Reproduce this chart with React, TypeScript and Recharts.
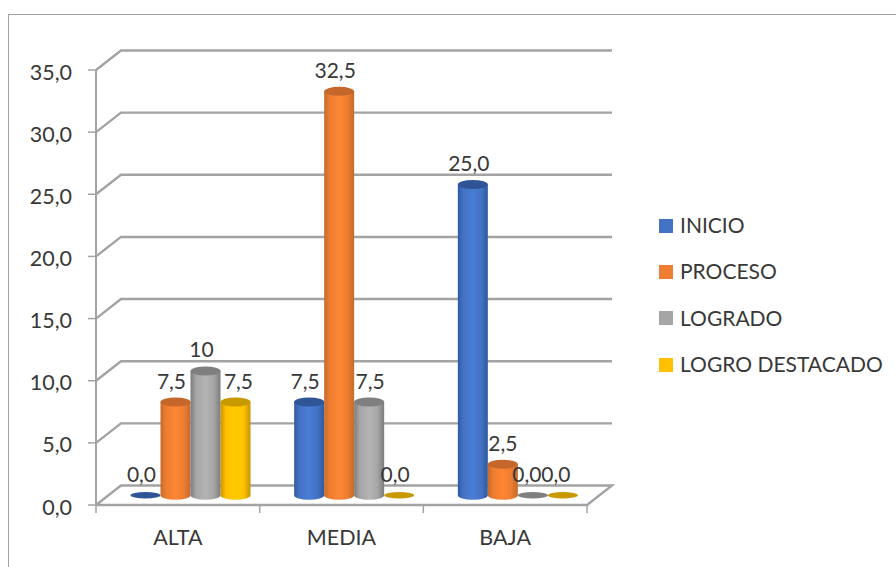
import { Bar, BarChart, CartesianGrid, LabelList, Legend, XAxis, YAxis } from "recharts";

const categories = ["ALTA", "MEDIA", "BAJA"];
const inicio = [0, 7.5, 25];
const proceso = [7.5, 32.5, 2.5];
const logrado = [10, 7.5, 0];
const logroDestacado = [7.5, 0, 0];
const yTicks = [0, 5, 10, 15, 20, 25, 30, 35];

const chartData = categories.map((name, i) => ({
  name,
  INICIO: inicio[i],
  PROCESO: proceso[i],
  LOGRADO: logrado[i],
  "LOGRO DESTACADO": logroDestacado[i],
}));

const SERIES = [
  { key: "INICIO", fill: "#4472C4", edge: "#2f5a9e", mid: "#4a7dd6", top: "#2f5597" },
  { key: "PROCESO", fill: "#ED7D31", edge: "#c56a2c", mid: "#ff8633", top: "#c5672a" },
  { key: "LOGRADO", fill: "#A5A5A5", edge: "#7c7c7c", mid: "#b4b4b4", top: "#7f7f7f" },
  { key: "LOGRO DESTACADO", fill: "#FFC000", edge: "#c49400", mid: "#ffcb00", top: "#c99a00" },
];

// labels the original chart had dragged away from the default spot
const LABEL_NUDGE: Record<string, number> = {
  "LOGRO DESTACADO-0": 7,
  "LOGRADO-1": 5,
  "PROCESO-2": 4,
  "LOGRADO-2": -2,
  "LOGRO DESTACADO-2": -3,
};

const FONT = "Lato, sans-serif";
const TEXT = "#383838";
const GRID = "#a3a3a3";
const CHART_W = 896;
const CHART_H = 567;
const PLOT_LEFT = 96;
const PLOT_TOP = 70;
const PLOT_W = 491;
const PLOT_H = 435;
// depth of the fake 3D box
const DX = 25;
const DY = 19.5;
const RY = 4.5;

const fmt = (v: number) => (v === 10 ? "10" : v.toFixed(1).replace(".", ","));

function Cylinder(props: any) {
  const { x, y, width, height, seriesIndex } = props;
  const s = SERIES[seriesIndex];
  const rx = width / 2;
  const left = x + DX / 2;
  const right = left + width;
  const top = y - DY / 2;
  const base = top + height;
  return (
    <g>
      {height > 0 && (
        <path
          d={`M${left},${top} L${left},${base} A${rx},${RY} 0 0 0 ${right},${base} L${right},${top} Z`}
          fill={`url(#cyl${seriesIndex})`}
        />
      )}
      <ellipse cx={left + rx} cy={top} rx={rx} ry={height > 0 ? RY : 3.2} fill={s.top} />
    </g>
  );
}

function BarLabel(props: any) {
  const { x, y, width, value, index, seriesKey } = props;
  const nudge = LABEL_NUDGE[`${seriesKey}-${index}`] ?? 0;
  return (
    <text
      x={x + width / 2 + DX / 2 - 4 + nudge}
      y={y - DY / 2 - 22}
      textAnchor="middle"
      dominantBaseline="central"
      fontSize={21}
      fontFamily={FONT}
      fill={TEXT}
    >
      {fmt(value)}
    </text>
  );
}

// wall and floor lines are hung off the grid so they follow the y scale
function GridLine(props: any) {
  const { x1, x2, y1 } = props;
  const isFloor = Math.abs(y1 - (PLOT_TOP + PLOT_H)) < 1;
  const points = isFloor
    ? `${x1},${y1} ${x1 + DX},${y1 - DY} ${x2 + DX},${y1 - DY} ${x2},${y1} ${x1},${y1}`
    : `${x1},${y1} ${x1 + DX},${y1 - DY} ${x2 + DX},${y1 - DY}`;
  return <polyline points={points} fill="none" stroke={GRID} strokeWidth={2.4} />;
}

function CategoryTick(props: any) {
  const { x, payload, index } = props;
  const step = PLOT_W / categories.length;
  const axisY = PLOT_TOP + PLOT_H;
  return (
    <g>
      <line x1={x - step / 2} x2={x - step / 2} y1={axisY} y2={axisY + 8} stroke={GRID} strokeWidth={1.5} />
      {index === categories.length - 1 && (
        <line x1={x + step / 2} x2={x + step / 2} y1={axisY} y2={axisY + 8} stroke={GRID} strokeWidth={1.5} />
      )}
      <text
        x={x}
        y={axisY + 32}
        textAnchor="middle"
        dominantBaseline="central"
        fontSize={21.5}
        fontFamily={FONT}
        fill={TEXT}
      >
        {payload.value}
      </text>
    </g>
  );
}

function LegendBox({ payload }: any) {
  return (
    <div>
      {(payload ?? []).map((entry: any) => (
        <div key={entry.value} style={{ display: "flex", alignItems: "center", height: 46.3 }}>
          <span style={{ width: 14, height: 14, background: entry.color, marginRight: 7, flex: "none" }} />
          <span style={{ fontFamily: FONT, fontSize: 21, color: TEXT, whiteSpace: "nowrap", marginTop: -2 }}>
            {entry.value}
          </span>
        </div>
      ))}
    </div>
  );
}

export default function App() {
  return (
    <div style={{ position: "absolute", left: 0, top: 0, width: CHART_W, height: CHART_H, overflow: "hidden", background: "#fff" }}>
      <div style={{ position: "absolute", left: 8, top: 14, width: 1000, height: 700, border: "1px solid #a0a0a0" }} />
      <BarChart
        width={CHART_W}
        height={CHART_H}
        data={chartData}
        barSize={30}
        barGap={0}
        margin={{ top: PLOT_TOP, right: CHART_W - PLOT_LEFT - PLOT_W, left: 0, bottom: 0 }}
        style={{ position: "absolute", left: 0, top: 0 }}
      >
        <defs>
          {SERIES.map((s, i) => (
            <linearGradient key={s.key} id={`cyl${i}`} x1="0" y1="0" x2="1" y2="0">
              <stop offset="0%" stopColor={s.edge} />
              <stop offset="18%" stopColor={s.fill} />
              <stop offset="50%" stopColor={s.mid} />
              <stop offset="78%" stopColor={s.fill} />
              <stop offset="100%" stopColor={s.edge} />
            </linearGradient>
          ))}
        </defs>
        <CartesianGrid vertical={false} horizontal={(p: any) => <GridLine key={p.key} {...p} />} />
        <XAxis
          dataKey="name"
          height={CHART_H - PLOT_TOP - PLOT_H}
          axisLine={false}
          tickLine={false}
          interval={0}
          tick={(p: any) => <CategoryTick {...p} />}
        />
        <YAxis
          width={PLOT_LEFT}
          domain={[0, 35]}
          ticks={yTicks}
          interval={0}
          tickFormatter={(v: number) => v.toFixed(1).replace(".", ",")}
          axisLine={{ stroke: GRID, strokeWidth: 2 }}
          tickLine={{ stroke: GRID, strokeWidth: 1.5 }}
          tickSize={8}
          tickMargin={16}
          tick={{ fontSize: 21.5, fontFamily: FONT, fill: TEXT, dy: 2 }}
        />
        <Legend
          layout="vertical"
          align="center"
          verticalAlign="middle"
          itemSorter={null}
          wrapperStyle={{ left: 659, top: 202.5, width: 237 }}
          content={(p: any) => <LegendBox {...p} />}
        />
        {SERIES.map((s, i) => (
          <Bar
            key={s.key}
            dataKey={s.key}
            fill={s.fill}
            isAnimationActive={false}
            shape={(p: any) => <Cylinder {...p} seriesIndex={i} />}
          >
            <LabelList dataKey={s.key} content={(p: any) => <BarLabel {...p} seriesKey={s.key} />} />
          </Bar>
        ))}
      </BarChart>
    </div>
  );
}
